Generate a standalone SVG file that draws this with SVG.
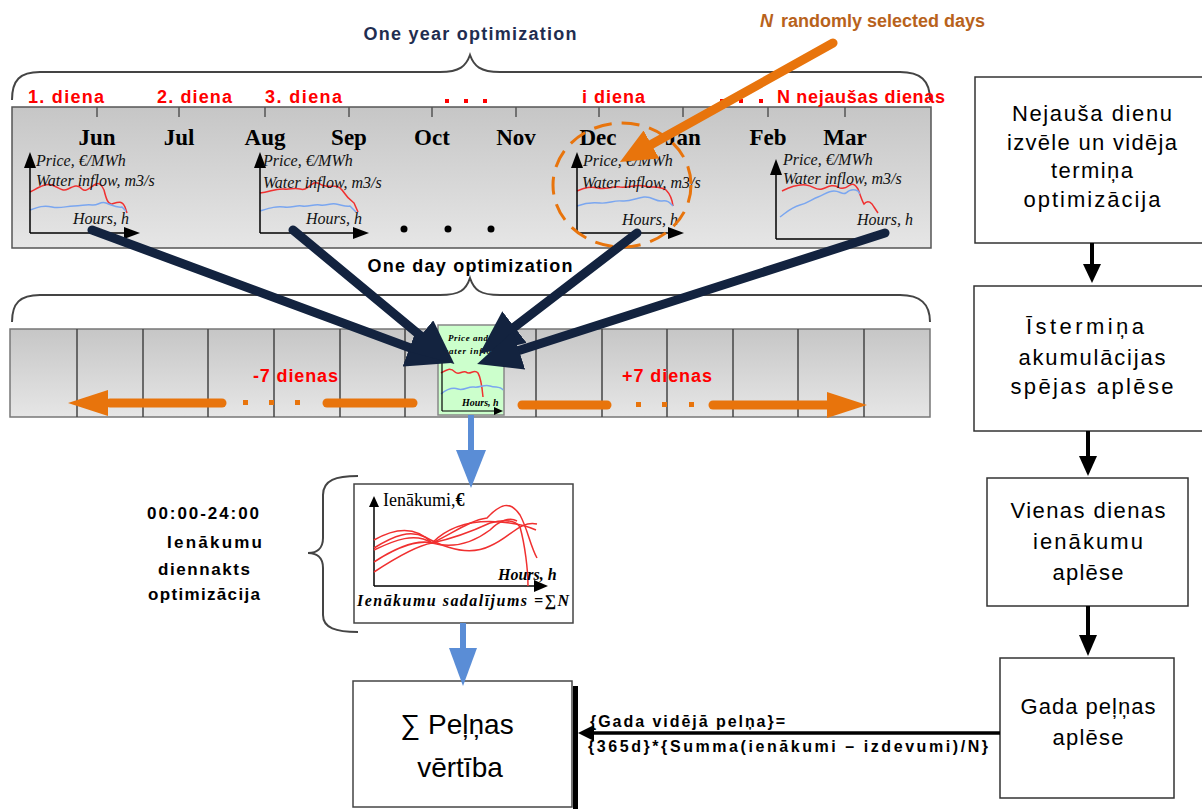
<svg xmlns="http://www.w3.org/2000/svg" width="1202" height="809" viewBox="0 0 1202 809">
<style>
.month{font-family:"Liberation Serif",serif;font-weight:bold;font-size:23px;fill:#000;text-anchor:middle}
.chl{font-family:"Liberation Serif",serif;font-style:italic;font-size:16px;fill:#111}
.red{font-family:"Liberation Sans",sans-serif;font-weight:bold;font-size:18px;fill:#ff0000}
.hdr{font-family:"Liberation Sans",sans-serif;font-weight:bold;font-size:18px;text-anchor:middle}
.box{fill:#fff;stroke:#333;stroke-width:1.5}
.bt{font-family:"Liberation Sans",sans-serif;font-size:22px;fill:#000;text-anchor:middle}
.lt{font-family:"Liberation Sans",sans-serif;font-weight:bold;font-size:17px;fill:#000}
.navy{stroke:#13233f;stroke-width:9;fill:none;stroke-linecap:round}
.orng{stroke:#e8740c;stroke-width:9;fill:none;stroke-linecap:round}
.ax{stroke:#000;stroke-width:1.5;fill:none}
.rl{stroke:#f03030;stroke-width:1.5;fill:none}
.bl{stroke:#7aa6f0;stroke-width:1.5;fill:none}
.brace{stroke:#444;stroke-width:2;fill:none}
.cell{stroke:#444;stroke-width:1.5}
</style>
<defs>
<linearGradient id="gband" x1="0" y1="0" x2="0" y2="1">
<stop offset="0" stop-color="#c6c6c6"/><stop offset="1" stop-color="#e6e6e6"/>
</linearGradient>
<marker id="mnavy" viewBox="0 0 44 40" markerWidth="44" markerHeight="40" refX="16" refY="20" orient="auto" markerUnits="userSpaceOnUse">
<path d="M0,0 L44,20 L0,40 Z" fill="#13233f"/>
</marker>
<marker id="morng" viewBox="0 0 36 32" markerWidth="36" markerHeight="32" refX="12" refY="16" orient="auto" markerUnits="userSpaceOnUse">
<path d="M0,0 L36,16 L0,32 Z" fill="#e8740c"/>
</marker>
</defs>

<rect width="1202" height="809" fill="#fff"/>

<!-- Titles -->
<g id="title-year">
<text class="hdr" x="470" y="40" fill="#1f2d50" textLength="213">One year optimization</text>
<path class="brace" d="M12,100 C12,80 20,72 40,72 L440,72 C460,72 466,66 470,55 C474,66 480,72 500,72 L900,72 C920,72 930,80 930,100"/>
</g>
<g id="title-random">
<text x="760" y="27" font-family="Liberation Sans, sans-serif" font-weight="bold" font-size="18" fill="#b8621b"><tspan font-style="italic">N</tspan><tspan dx="8">randomly selected days</tspan></text>
</g>

<!-- Top band -->
<g id="year-band">
<rect x="12" y="107" width="919" height="141" fill="url(#gband)" stroke="#555" stroke-width="1.5"/>
<g stroke="#555" stroke-width="1.5">
<line x1="97" y1="107" x2="97" y2="117"/><line x1="179" y1="107" x2="179" y2="117"/>
<line x1="265" y1="107" x2="265" y2="117"/><line x1="349" y1="107" x2="349" y2="117"/>
<line x1="432" y1="107" x2="432" y2="117"/><line x1="516" y1="107" x2="516" y2="117"/>
<line x1="599" y1="107" x2="599" y2="117"/><line x1="683" y1="107" x2="683" y2="117"/>
<line x1="768" y1="107" x2="768" y2="117"/><line x1="845" y1="107" x2="845" y2="117"/>
</g>
<text class="month" x="97" y="145">Jun</text>
<text class="month" x="179" y="145">Jul</text>
<text class="month" x="265" y="145">Aug</text>
<text class="month" x="349" y="145">Sep</text>
<text class="month" x="432" y="145">Oct</text>
<text class="month" x="516" y="145">Nov</text>
<text class="month" x="598" y="145">Dec</text>
<text class="month" x="683" y="145">Jan</text>
<text class="month" x="768" y="145">Feb</text>
<text class="month" x="845" y="145">Mar</text>
<text class="red" x="28" y="103" textLength="76">1. diena</text>
<text class="red" x="157" y="103" textLength="75">2. diena</text>
<text class="red" x="265" y="103" textLength="77">3. diena</text>
<g fill="#ff0000"><rect x="445" y="99" width="4" height="4"/><rect x="464" y="99" width="4" height="4"/><rect x="483" y="99" width="4" height="4"/>
<rect x="720" y="99" width="4" height="4"/><rect x="739" y="99" width="4" height="4"/><rect x="759" y="99" width="4" height="4"/></g>
<text class="red" x="582" y="103" textLength="63">i diena</text>
<text class="red" x="777" y="103" textLength="168">N nejaušas dienas</text>
<g fill="#000"><circle cx="404" cy="229" r="3.5"/><circle cx="448" cy="229" r="3.5"/><circle cx="491" cy="229" r="3.5"/></g>
</g>

<!-- Chart 1 -->
<g id="chart-1">
<path class="rl" d="M30,192 C38,188 45,183 52,185 C58,187 62,192 68,189 C74,186 78,184 82,189 C86,193 90,187 96,184 C100,182 102,186 104,190 C106,198 108,205 112,204 C118,202 122,200 125,207 L127,213"/>
<path class="bl" d="M30,210 C38,207 44,205 52,207 C60,209 66,206 74,206 C82,206 86,204 92,205 C98,206 100,201 106,203 C112,205 116,208 122,207 L126,211"/>
<line class="ax" x1="30" y1="233" x2="30" y2="165"/>
<path d="M24,168 L30,152 L36,168 Z"/>
<line class="ax" x1="30" y1="233" x2="126" y2="233"/>
<path d="M124,227 L140,233 L124,239 Z"/>
<text class="chl" x="36" y="166">Price, €/MWh</text>
<text class="chl" x="36" y="186">Water inflow, m3/s</text>
<text class="chl" x="73" y="224">Hours, h</text>
</g>

<!-- Chart 2 -->
<g id="chart-2">
<path class="rl" d="M260,193 C270,192 276,188 284,189 C290,190 294,187 300,189 C306,191 308,186 314,183 C318,181 320,186 326,186 C332,187 338,184 342,190 C346,196 350,200 354,203 L358,212"/>
<path class="bl" d="M260,211 C270,208 276,206 284,207 C292,208 296,205 302,206 C308,207 314,204 320,205 C326,206 330,203 336,204 C342,205 346,207 350,206 L356,212"/>
<line class="ax" x1="260" y1="233" x2="260" y2="165"/>
<path d="M254,168 L260,152 L266,168 Z"/>
<line class="ax" x1="260" y1="233" x2="355" y2="233"/>
<path d="M353,227 L369,233 L353,239 Z"/>
<text class="chl" x="263" y="166">Price, €/MWh</text>
<text class="chl" x="263" y="188">Water inflow, m3/s</text>
<text class="chl" x="306" y="224">Hours, h</text>
</g>

<!-- Chart 3 (Dec) -->
<g id="chart-3">
<path class="rl" d="M577,191 C585,188 590,186 598,188 C606,190 612,186 620,187 C630,188 636,184 644,186 C652,188 660,186 666,190 C670,194 672,198 673,206"/>
<path class="bl" d="M577,206 C585,203 592,202 600,203 C608,204 614,200 622,201 C630,202 636,198 644,197 C652,196 656,202 662,201 C668,200 670,203 673,206"/>
<line class="ax" x1="577" y1="233" x2="577" y2="165"/>
<path d="M571,168 L577,152 L583,168 Z"/>
<line class="ax" x1="577" y1="233" x2="670" y2="233"/>
<path d="M668,227 L684,233 L668,239 Z"/>
<text class="chl" x="583" y="166">Price, €/MWh</text>
<text class="chl" x="582" y="188">Water inflow, m3/s</text>
<text class="chl" x="622" y="225">Hours, h</text>
<ellipse cx="622" cy="185" rx="69" ry="62" fill="none" stroke="#e8740c" stroke-width="3" stroke-dasharray="18 10"/>
</g>

<!-- Chart 4 -->
<g id="chart-4">
<path class="rl" d="M782,191 C790,187 798,184 806,185 C814,186 816,191 822,189 C828,187 832,184 838,187 C842,190 846,188 850,185 C854,183 856,186 858,189 C860,194 862,201 864,204 C868,199 872,203 874,207 L878,213"/>
<path class="bl" d="M780,217 C788,211 792,207 800,205 C808,203 812,199 818,197 C824,195 828,191 834,191 C840,191 842,195 846,193 C850,189 854,189 858,191 L860,194"/>
<line class="ax" x1="776" y1="239" x2="776" y2="172"/>
<path d="M770,175 L776,159 L782,175 Z"/>
<line class="ax" x1="776" y1="239" x2="865" y2="239"/>
<text class="chl" x="783" y="165">Price, €/MWh</text>
<text class="chl" x="783" y="184">Water inflow, m3/s</text>
<text class="chl" x="857" y="225">Hours, h</text>
</g>

<!-- Day band -->
<g id="title-day">
<text class="hdr" x="470" y="272" fill="#000" textLength="205">One day optimization</text>
<path class="brace" d="M12,322 C12,303 20,295 40,295 L440,295 C460,295 466,290 470,278 C474,290 480,295 500,295 L900,295 C920,295 930,303 930,322"/>
</g>
<g id="day-strip">
<rect x="10" y="329" width="920" height="88" fill="url(#gband)" stroke="#777" stroke-width="1.5"/>
<g class="cell">
<line x1="77" y1="329" x2="77" y2="417"/><line x1="143" y1="329" x2="143" y2="417"/>
<line x1="208" y1="329" x2="208" y2="417"/><line x1="274" y1="329" x2="274" y2="417"/>
<line x1="340" y1="329" x2="340" y2="417"/><line x1="405" y1="329" x2="405" y2="417"/>
<line x1="536" y1="329" x2="536" y2="417"/><line x1="602" y1="329" x2="602" y2="417"/>
<line x1="667" y1="329" x2="667" y2="417"/><line x1="733" y1="329" x2="733" y2="417"/>
<line x1="798" y1="329" x2="798" y2="417"/><line x1="864" y1="329" x2="864" y2="417"/>
</g>
<text class="red" x="253" y="382" textLength="85">-7 dienas</text>
<text class="red" x="622" y="382" textLength="90">+7 dienas</text>
</g>
<g id="day-selected">
<rect x="438" y="325" width="66" height="90" fill="#ccffcc" stroke="#888" stroke-width="1.5"/>
<text x="448" y="341" font-family="Liberation Serif, serif" font-style="italic" font-weight="bold" font-size="9" fill="#000" textLength="40">Price and</text>
<text x="442" y="354" font-family="Liberation Serif, serif" font-style="italic" font-weight="bold" font-size="9" fill="#000" textLength="56">water inflow</text>
<path class="rl" d="M441,373 C446,370 450,367 455,372 C459,376 462,370 466,372 C470,376 474,368 478,373 C481,378 482,386 483,397"/>
<path class="bl" d="M441,394 C446,390 452,387 458,389 C464,391 468,386 474,387 C480,388 484,384 490,386 C496,388 500,386 503,390"/>
<line x1="442" y1="360" x2="442" y2="411" stroke="#000" stroke-width="1.2"/>
<line x1="442" y1="411" x2="496" y2="411" stroke="#000" stroke-width="1.2"/>
<path d="M494,407 L503,411 L494,415 Z"/>
<text x="462" y="406" font-family="Liberation Serif, serif" font-style="italic" font-weight="bold" font-size="10" fill="#000">Hours, h</text>
</g>

<!-- Bottom chart -->
<g id="bottom-brace">
<path class="brace" d="M358,476 C336,476 323,480 323,495 L323,538 C323,549 316,553 308,553 C316,553 323,557 323,568 L323,615 C323,628 336,632 358,632"/>
<text class="lt" x="147" y="519" textLength="112">00:00-24:00</text>
<text class="lt" x="167" y="548" textLength="95">Ienākumu</text>
<text class="lt" x="158" y="575" textLength="92">diennakts</text>
<text class="lt" x="148" y="600" textLength="112">optimizācija</text>
</g>
<g id="income-chart">
<rect x="354" y="484" width="219" height="139" fill="#fff" stroke="#444" stroke-width="1.5"/>
<line class="ax" x1="374" y1="586" x2="374" y2="505"/>
<path d="M369,507 L374,496 L379,507 Z"/>
<line class="ax" x1="374" y1="586" x2="536" y2="586"/>
<path d="M534,580 L548,586 L534,592 Z"/>
<text x="383" y="506" font-family="Liberation Serif, serif" font-size="18" fill="#000">Ienākumi,<tspan font-weight="bold">€</tspan></text>
<g class="rl" stroke-width="1.3">
<path d="M374,540 C395,528 415,525 432,543 C450,525 475,520 500,522 C515,523 525,525 536,530"/>
<path d="M374,550 C395,540 415,532 432,543 C450,535 470,520 487,518 C500,504 510,500 520,515 C528,530 530,545 537,558"/>
<path d="M374,562 C400,545 420,540 432,543 C455,538 475,530 490,523 C505,519 515,520 520,527 C525,545 528,570 528,586"/>
<path d="M374,572 C400,555 420,545 432,543 C450,548 470,545 490,530 C500,520 510,517 517,521"/>
<path d="M374,548 C395,535 410,530 425,537 C445,548 470,556 490,546 C510,538 520,520 537,524"/>
</g>
<text x="498" y="580" font-family="Liberation Serif, serif" font-style="italic" font-weight="bold" font-size="16" fill="#000">Hours, h</text>
<text x="357" y="606" font-family="Liberation Serif, serif" font-style="italic" font-weight="bold" font-size="16" fill="#000" textLength="212">Ienākumu sadalījums =∑N</text>
</g>

<!-- Result box -->
<g id="result">
<rect x="353" y="681" width="219" height="126" fill="#fff" stroke="#444" stroke-width="1.5"/>
<rect x="573" y="686" width="5" height="123" fill="#000"/>
<text x="457" y="734" font-family="Liberation Sans, sans-serif" font-size="28" fill="#000" text-anchor="middle">∑ Peļņas</text>
<text x="460" y="777" font-family="Liberation Sans, sans-serif" font-size="28" fill="#000" text-anchor="middle">vērtība</text>
</g>
<g id="formula">
<text x="590" y="727" font-family="Liberation Sans, sans-serif" font-weight="bold" font-size="16" fill="#000" textLength="195">{Gada vidējā pelņa}=</text>
<text x="588" y="752" font-family="Liberation Sans, sans-serif" font-weight="bold" font-size="16" fill="#000" textLength="400">{365d}*{Summa(ienākumi – izdevumi)/N}</text>
</g>

<!-- Right column -->
<g id="step-1">
<rect x="975" y="77" width="240" height="166" class="box"/>
<text class="bt" x="1092" y="121" textLength="160">Nejauša dienu</text>
<text class="bt" x="1092" y="150" textLength="170">izvēle un vidēja</text>
<text class="bt" x="1092" y="178" textLength="82">termiņa</text>
<text class="bt" x="1092" y="207" textLength="137">optimizācija</text>
</g>
<g id="step-2">
<rect x="974" y="286" width="240" height="145" class="box"/>
<text class="bt" x="1085" y="334" textLength="118">Īstermiņa</text>
<text class="bt" x="1092" y="365" textLength="147">akumulācijas</text>
<text class="bt" x="1092" y="394" textLength="163">spējas aplēse</text>
</g>
<g id="step-3">
<rect x="987" y="478" width="201" height="128" class="box"/>
<text class="bt" x="1088" y="518" textLength="155">Vienas dienas</text>
<text class="bt" x="1088" y="549" textLength="110">ienākumu</text>
<text class="bt" x="1088" y="580" textLength="71">aplēse</text>
</g>
<g id="step-4">
<rect x="1000" y="658" width="174" height="140" class="box"/>
<text class="bt" x="1088" y="714" textLength="135">Gada peļņas</text>
<text class="bt" x="1088" y="745" textLength="71">aplēse</text>
</g>

<!-- Connectors -->
<g id="connectors">
<line class="navy" x1="92" y1="230" x2="424.6" y2="353.3" marker-end="url(#mnavy)"/>
<line class="navy" x1="293" y1="230" x2="432.8" y2="346" marker-end="url(#mnavy)"/>
<line class="navy" x1="637" y1="233" x2="501.8" y2="336.8" marker-end="url(#mnavy)"/>
<line class="navy" x1="885" y1="233" x2="503.8" y2="355.4" marker-end="url(#mnavy)"/>
<line class="orng" stroke-width="10" x1="833" y1="43" x2="640.9" y2="150.3" marker-end="url(#morng)"/>
<line class="orng" x1="110" y1="403" x2="222" y2="403"/>
<path d="M68,403 L108,390 L108,416 Z" fill="#e8740c"/>
<g fill="#e8740c"><rect x="243" y="400" width="5" height="5"/><rect x="269" y="400" width="5" height="5"/><rect x="295" y="400" width="5" height="5"/>
<rect x="636" y="402" width="5" height="5"/><rect x="662" y="402" width="5" height="5"/><rect x="689" y="402" width="5" height="5"/></g>
<line class="orng" x1="327" y1="403" x2="413" y2="403"/>
<line class="orng" x1="522" y1="405" x2="607" y2="405"/>
<line class="orng" x1="713" y1="405" x2="830" y2="405"/>
<path d="M867,405 L827,392 L827,418 Z" fill="#e8740c"/>
<line x1="471" y1="415" x2="471" y2="452" stroke="#5a8dd6" stroke-width="6"/>
<path d="M456,450 L486,450 L471,488 Z" fill="#5a8dd6"/>
<line x1="463" y1="623" x2="463" y2="650" stroke="#5a8dd6" stroke-width="6"/>
<path d="M449,648 L477,648 L463,686 Z" fill="#5a8dd6"/>
<line x1="1092" y1="243" x2="1092" y2="266" stroke="#000" stroke-width="4"/>
<path d="M1083,264 L1101,264 L1092,283 Z"/>
<line x1="1088" y1="431" x2="1088" y2="458" stroke="#000" stroke-width="4"/>
<path d="M1079,456 L1097,456 L1088,476 Z"/>
<line x1="1088" y1="606" x2="1088" y2="637" stroke="#000" stroke-width="4"/>
<path d="M1079,635 L1097,635 L1088,656 Z"/>
<line x1="1000" y1="733" x2="592" y2="733" stroke="#000" stroke-width="3.5"/>
<path d="M594,725 L578,733 L594,741 Z"/>
</g>
</svg>
